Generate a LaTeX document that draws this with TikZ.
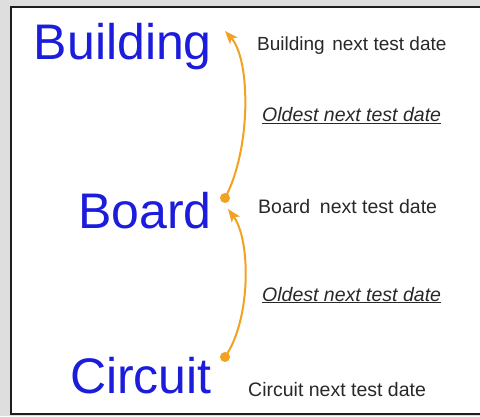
\documentclass[tikz,border=0pt]{standalone}
\usepackage{fontspec}
\setmainfont{Liberation Sans}
\usetikzlibrary{arrows.meta}
\definecolor{bigblue}{RGB}{28,28,220}
\definecolor{orng}{RGB}{242,162,32}
\definecolor{frame}{RGB}{30,30,30}
\definecolor{bggray}{RGB}{222,222,222}
\definecolor{smalltext}{RGB}{40,40,40}
\tikzset{
  biglabel/.style={anchor=base east, inner sep=0pt, text=bigblue, font=\fontsize{50}{56}\selectfont},
  smalllabel/.style={anchor=base west, inner sep=0pt, text=smalltext, font=\fontsize{19.5}{22}\selectfont},
  oldlabel/.style={anchor=base west, inner sep=0pt, text=smalltext, font=\fontsize{19.5}{22}\selectfont\itshape},
  link/.style={draw=orng, line width=2pt, -{Stealth[length=13pt,width=10pt,inset=3pt]}},
  dot/.style={fill=orng, draw=none}
}
\begin{document}
\begin{tikzpicture}[x=1pt,y=1pt]
  \useasboundingbox (0,0) rectangle (480,416);
  \fill[bggray] (0,0) rectangle (480,416);
  \fill[white] (11,2) rectangle (480,409);
  \draw[frame, line width=2pt] (480,409) -- (11,409) -- (11,2) -- (480,2);

  \node[biglabel] (building) at (212,356) {Building};
  \node[biglabel] (board) at (212,187) {Board};
  \node[biglabel] (circuit) at (212,23) {Circuit};

  \node[smalllabel, font=\fontsize{19}{22}\selectfont] (buildingdate) at (257,365) {Building\hspace{0.4em}next test date};
  \node[oldlabel] (oldest1) at (262,294) {\underline{Oldest next test date}};
  \node[smalllabel] (boarddate) at (258,203) {Board\hspace{0.5em}next test date};
  \node[oldlabel] (oldest2) at (262,115) {\underline{Oldest next test date}};
  \node[smalllabel] (circuitdate) at (248,20) {Circuit next test date};

  \coordinate (boarddot) at (225,218);
  \coordinate (buildtip) at (225,385);
  \coordinate (circuitdot) at (225,59);
  \coordinate (boardtip) at (228,207);

  \draw[link] (boarddot) .. controls (251,266) and (251,356) .. (buildtip);
  \draw[link] (circuitdot) .. controls (251,96) and (251,176) .. (boardtip);
  \fill[dot] (boarddot) circle (5pt);
  \fill[dot] (circuitdot) circle (5pt);
\end{tikzpicture}
\end{document}
